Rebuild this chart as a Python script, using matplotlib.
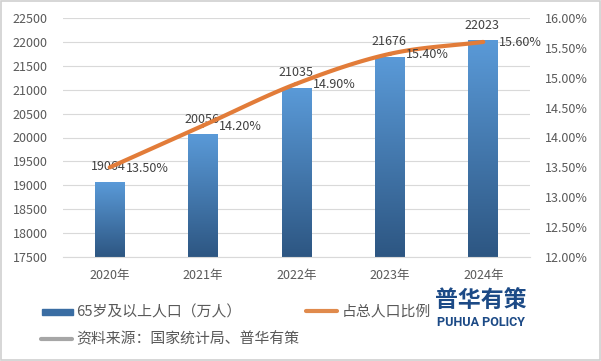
import matplotlib.pyplot as plt
import numpy as np
from matplotlib.colors import LinearSegmentedColormap
from matplotlib.lines import Line2D
from matplotlib.patches import Rectangle

plt.rcParams['font.family'] = ['Noto Sans CJK SC', 'DejaVu Sans']

years = ['2020年', '2021年', '2022年', '2023年', '2024年']
population = [19064, 20056, 21035, 21676, 22023]
ratio = [13.50, 14.20, 14.90, 15.40, 15.60]

W, H = 601, 361


def catmull_rom(xs, ys, n=30):
    # smooth curve through the points, like Excel's smoothed line
    px = np.concatenate([[2 * xs[0] - xs[1]], xs, [2 * xs[-1] - xs[-2]]])
    py = np.concatenate([[2 * ys[0] - ys[1]], ys, [2 * ys[-1] - ys[-2]]])
    outx, outy = [], []
    t = np.linspace(0, 1, n)
    for i in range(1, len(px) - 2):
        for p, out in ((px, outx), (py, outy)):
            p0, p1, p2, p3 = p[i - 1], p[i], p[i + 1], p[i + 2]
            out.extend(0.5 * ((2 * p1) + (-p0 + p2) * t
                              + (2 * p0 - 5 * p1 + 4 * p2 - p3) * t ** 2
                              + (-p0 + 3 * p1 - 3 * p2 + p3) * t ** 3))
    return np.array(outx), np.array(outy)


def fx(px):
    return px / W


def fy(py):
    return 1 - py / H


fig = plt.figure(figsize=(6.01, 3.61), dpi=100)
fig.patches.append(Rectangle((0.001, 0.002), 0.997, 0.996, transform=fig.transFigure,
                             fill=False, edgecolor='#d0d0d0', linewidth=1.2))
ax = fig.add_axes([fx(63), fy(257), 467 / W, 239 / H])
ax2 = ax.twinx()

x = np.arange(len(years))
ax.grid(axis='y', color='#d9d9d9', linewidth=0.8)
ax.set_axisbelow(True)

cmap = LinearSegmentedColormap.from_list('bar', ['#2d5682', '#5a9ad8'])
grad = np.linspace(0, 1, 256).reshape(-1, 1)
bw = 0.32
for xi, v in zip(x, population):
    ax.imshow(grad, cmap=cmap, origin='lower', aspect='auto',
              extent=[xi - bw / 2, xi + bw / 2, 17500, v], zorder=2)
    ax.annotate(str(v), (xi, v), xytext=(-1, 9), textcoords='offset pixels',
                ha='center', va='bottom', fontsize=9, color='#404040')
ax.set_xlim(-0.5, len(years) - 0.5)
ax.set_ylim(17500, 22500)
ax.set_yticks(np.arange(17500, 22501, 500))
ax.set_xticks(x)
ax.set_xticklabels(years)

ax2.set_ylim(12, 16)
ax2.set_yticks(np.arange(12, 16.01, 0.5))
ax2.set_yticklabels([f'{v:.2f}%' for v in np.arange(12, 16.01, 0.5)])
sx, sy = catmull_rom(x.astype(float), np.array(ratio))
ax2.plot(sx, sy, color='#e27c39', linewidth=3, solid_capstyle='round', zorder=3)
for xi, r in zip(x, ratio):
    ax2.annotate(f'{r:.2f}%', (xi, r), xytext=(16, -1), textcoords='offset pixels',
                 ha='left', va='center', fontsize=9, color='#404040')

for a in (ax, ax2):
    for s in a.spines.values():
        s.set_visible(False)
    a.tick_params(length=0, labelsize=9, colors='#595959')
ax.tick_params(axis='y', pad=11)
ax2.tick_params(axis='y', pad=11)
ax.tick_params(axis='x', pad=9)
ax.spines['bottom'].set_visible(True)
ax.spines['bottom'].set_color('#d9d9d9')

# legend area
fig.patches.append(Rectangle((fx(42), fy(315)), 31 / W, 6 / H,
                             transform=fig.transFigure, color='#3a6da3'))
fig.text(fx(76), fy(312), '65岁及以上人口（万人）', fontsize=10.7, color='#595959', va='center')
fig.lines.append(Line2D([fx(306), fx(337)], [fy(311)] * 2, transform=fig.transFigure,
                        color='#e08a4c', linewidth=3, solid_capstyle='round'))
fig.text(fx(342), fy(311), '占总人口比例', fontsize=10.7, color='#595959', va='center')
fig.lines.append(Line2D([fx(41), fx(72)], [fy(339)] * 2, transform=fig.transFigure,
                        color='#a6a6a6', linewidth=3, solid_capstyle='round'))
fig.text(fx(76), fy(339), '资料来源：国家统计局、普华有策', fontsize=10.7, color='#595959', va='center')
fig.text(fx(481), fy(300), '普华有策', fontsize=16.5, fontweight='black',
         color='#1c4a86', ha='center', va='center')
fig.text(fx(481), fy(322.5), 'PUHUA POLICY', fontsize=9, fontweight='bold',
         family='Roboto', color='#1c4a86', ha='center', va='center')

fig.savefig('out.png', dpi=100)
